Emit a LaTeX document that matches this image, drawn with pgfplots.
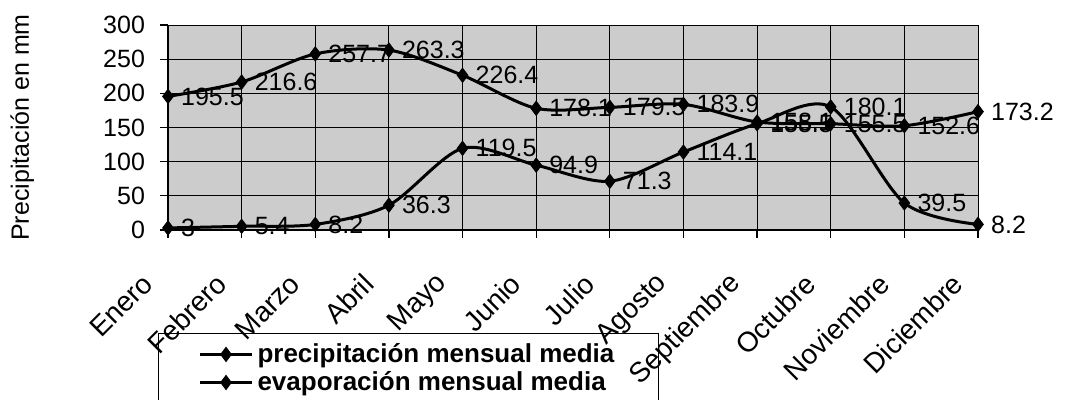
\documentclass[border=0pt]{standalone}
\usepackage{pgfplots}
\pgfplotsset{compat=1.18}
\usepackage{fontspec}
\setmainfont{Liberation Sans}
\begin{document}
\begin{tikzpicture}
\path[use as bounding box] (0,0) rectangle (533pt,-200pt);
\begin{axis}[
  at={(84pt,-115pt)}, anchor=south west,
  scale only axis, width=405pt, height=102.5pt,
  xmin=0, xmax=11, ymin=0, ymax=300,
  xtick={0,...,11},
  xticklabels={Enero,Febrero,Marzo,Abril,Mayo,Junio,Julio,Agosto,Septiembre,Octubre,Noviembre,Diciembre},
  ytick={0,50,...,300},
  axis lines=left, axis line style={-, line width=0.8pt},
  tick align=outside, major tick length=4pt,
  tick style={black, line width=0.6pt},
  grid=major, major grid style={black, line width=0.5pt},
  axis background/.style={fill=black!20},
  /pgf/number format/assume math mode=true,
  font=\fontsize{12.5}{15}\selectfont,
  xticklabel style={inner sep=0pt, xshift=-10pt, yshift=-20.5pt, rotate=45, anchor=east, font=\fontsize{14}{16}\selectfont},
  xticklabel shift=0pt,
  yticklabel style={xshift=-4pt, font=\fontsize{12.5}{15}\selectfont},
  ylabel={Precipitación en mm},
  every axis y label/.style={at={(axis description cs:-0.18,0.5)}, rotate=90, anchor=center, font=\fontsize{12.5}{15}\selectfont},
  legend style={at={(axis description cs:-0.0123,-0.502)}, anchor=north west,
    draw=black, line width=0.5pt, fill=none, inner xsep=20pt, inner ysep=3pt,
    font=\bfseries\fontsize{13}{15}\selectfont, row sep=-1pt, cells={anchor=west}},
  legend image code/.code={\draw[mark repeat=2,mark phase=2] plot coordinates {(0pt,0pt) (13pt,0pt) (26pt,0pt)};},
  cycle list={{black, line width=1.5pt, mark=diamond*, mark size=3.5pt, mark options={solid, fill=black, line width=0.5pt}},
              {black, line width=1.5pt, mark=diamond*, mark size=3.5pt, mark options={solid, fill=black, line width=0.5pt}}},
  every axis plot/.append style={smooth, tension=0.5},
  nodes near coords,
  every node near coord/.append style={anchor=west, xshift=3pt, black, font=\fontsize{12.5}{15}\selectfont},
  clip=false,
]
\addplot coordinates {(0,3) (1,5.4) (2,8.2) (3,36.3) (4,119.5) (5,94.9) (6,71.3) (7,114.1) (8,155.5) (9,180.1) (10,39.5) (11,8.2)};
\addlegendentry{precipitación mensual media}
\addplot coordinates {(0,195.5) (1,216.6) (2,257.7) (3,263.3) (4,226.4) (5,178.1) (6,179.5) (7,183.9) (8,158.1) (9,155.5) (10,152.6) (11,173.2)};
\addlegendentry{evaporación mensual media}
\end{axis}
\end{tikzpicture}
\end{document}
